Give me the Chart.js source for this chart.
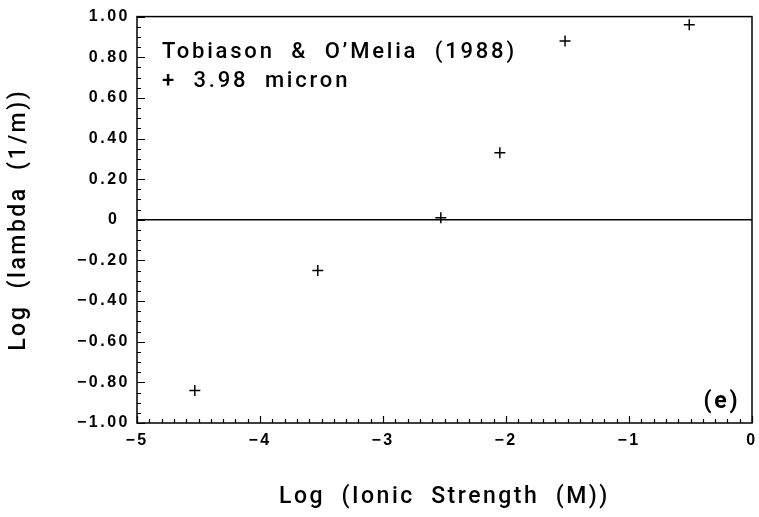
<!DOCTYPE html>
<html>
<head>
<meta charset="utf-8">
<title>Log lambda vs Log ionic strength</title>
<script src="https://cdn.jsdelivr.net/npm/chart.js@4/dist/chart.umd.min.js"></script>
<style>
  html, body { margin: 0; padding: 0; background: #fff; }
  #wrap { width: 759px; height: 517px; }
</style>
</head>
<body>
<div id="wrap"><canvas id="chart" width="759" height="517"></canvas></div>
<script>
// Tobiason & O'Melia (1988), 3.98 micron particles
const logIonicStrength = [-4.53, -3.53, -2.53, -2.05, -1.52, -0.51];
const logLambda = [-0.84, -0.25, 0.01, 0.33, 0.88, 0.96];

const xTickValues = [-5, -4, -3, -2, -1, 0];
const yTickValues = [-1.0, -0.8, -0.6, -0.4, -0.2, 0, 0.2, 0.4, 0.6, 0.8, 1.0];

const sourceLabel = 'Tobiason  &  O\u2019Melia  (1988)';
const seriesLabel = '+  3.98  micron';
const panelLabel = '(e)';
const xTitle = 'Log  (Ionic  Strength  (M))';
const yTitle = 'Log  (lambda  (1/m))';

const MINUS = '\u2212';
const SPACING = '2.5px';
const TEXT_FONT = 'Roboto, "Liberation Sans", Arial, sans-serif';
const TICK_FONT = '"Liberation Sans", Arial, sans-serif';

function fmtY(v) {
  if (Math.abs(v) < 1e-9) return '0\u2002';
  const s = Math.abs(v).toFixed(2);
  return v < 0 ? MINUS + s : s;
}
function fmtX(v) {
  if (Math.abs(v) < 1e-9) return '0';
  return v < 0 ? MINUS + Math.abs(v) : String(v);
}

// Frame, inward tick marks and text notes inside the plot
const framePlugin = {
  id: 'frame',
  beforeDraw(chart) {
    const ctx = chart.ctx;
    ctx.save();
    ctx.fillStyle = '#ffffff';
    ctx.fillRect(0, 0, chart.width, chart.height);
    ctx.restore();
    ctx.letterSpacing = SPACING;
  },
  afterDraw(chart) {
    const ctx = chart.ctx;
    const a = chart.chartArea;
    const xs = chart.scales.x;
    const ys = chart.scales.y;
    ctx.save();
    ctx.strokeStyle = '#000';
    ctx.lineWidth = 1.5;
    ctx.strokeRect(a.left, a.top, a.right - a.left, a.bottom - a.top);

    ctx.lineWidth = 1.2;
    ctx.beginPath();
    for (let i = 0; i <= 40; i++) {
      const v = -1 + i * 0.05;
      const y = Math.round(ys.getPixelForValue(v)) + 0.5;
      const len = (i % 4 === 0) ? 8 : 4;
      ctx.moveTo(a.left, y);
      ctx.lineTo(a.left + len, y);
    }
    for (let i = 0; i <= 50; i++) {
      const v = -5 + i * 0.1;
      const x = Math.round(xs.getPixelForValue(v)) + 0.5;
      const len = (i % 10 === 0) ? 7 : 4;
      ctx.moveTo(x, a.bottom);
      ctx.lineTo(x, a.bottom - len);
    }
    ctx.stroke();

    ctx.fillStyle = '#000';
    ctx.letterSpacing = '2.8px';
    ctx.textBaseline = 'alphabetic';
    ctx.textAlign = 'left';
    ctx.font = '500 22px ' + TEXT_FONT;
    ctx.fillText(sourceLabel, a.left + 25, a.top + 41);
    ctx.fillText(seriesLabel, a.left + 25, a.top + 70);
    ctx.font = 'bold 23px ' + TEXT_FONT;
    ctx.textAlign = 'center';
    ctx.fillText(panelLabel, a.right - 30, a.bottom - 15);
    ctx.restore();
    ctx.letterSpacing = '0px';
  }
};

new Chart(document.getElementById('chart'), {
  type: 'scatter',
  data: {
    datasets: [{
      label: '3.98 micron',
      data: logIonicStrength.map((x, i) => ({ x: x, y: logLambda[i] })),
      pointStyle: 'cross',
      pointRadius: 5.5,
      pointHoverRadius: 5.5,
      borderColor: '#000',
      backgroundColor: '#000',
      borderWidth: 1.5,
      showLine: false
    }]
  },
  options: {
    responsive: false,
    animation: false,
    devicePixelRatio: 1,
    layout: { padding: { top: 15, right: 0, left: 0, bottom: 0 } },
    plugins: {
      legend: { display: false },
      tooltip: { enabled: false }
    },
    scales: {
      x: {
        type: 'linear',
        min: -5,
        max: 0,
        afterBuildTicks(scale) { scale.ticks = xTickValues.map(v => ({ value: v })); },
        afterFit(scale) { scale.height = 94; },
        grid: { display: false },
        border: { display: false },
        ticks: {
          autoSkip: false,
          maxRotation: 0,
          padding: 0,
          color: '#000',
          font: { family: TICK_FONT, size: 16, weight: 'bold' },
          callback: (v) => fmtX(v)
        },
        title: {
          display: true,
          text: xTitle,
          color: '#000',
          font: { family: TEXT_FONT, size: 23, weight: 500 },
          padding: { top: 0, bottom: 6 }
        }
      },
      y: {
        type: 'linear',
        min: -1,
        max: 1,
        afterBuildTicks(scale) { scale.ticks = yTickValues.map(v => ({ value: v })); },
        afterFit(scale) { scale.width = 137; },
        grid: {
          display: true,
          drawOnChartArea: true,
          drawTicks: false,
          lineWidth: 1.6,
          color: (c) => (c.tick && Math.abs(c.tick.value) < 1e-9) ? '#000' : 'rgba(0,0,0,0)'
        },
        border: { display: false },
        ticks: {
          autoSkip: false,
          padding: 7,
          color: '#000',
          font: { family: TICK_FONT, size: 16, weight: 'bold' },
          callback: (v) => fmtY(v)
        },
        title: {
          display: true,
          text: yTitle,
          color: '#000',
          font: { family: TEXT_FONT, size: 23, weight: 500 },
          padding: { top: 5, bottom: 0 }
        }
      }
    }
  },
  plugins: [framePlugin]
});
</script>
</body>
</html>
